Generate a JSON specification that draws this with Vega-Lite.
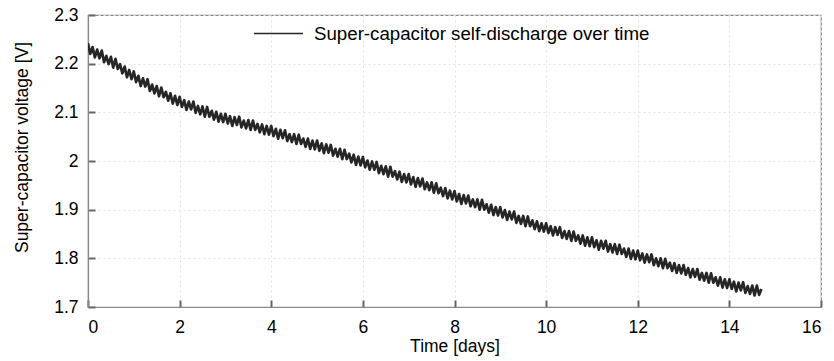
{
"$schema": "https://vega.github.io/schema/vega-lite/v6.json",
"width": 733, "height": 292,
"autosize": {"type": "none"},
"padding": {"left": 88, "top": 15, "right": 13, "bottom": 54},
"data": {"values": [
{"t":0,"v":2.242},{"t":0.05,"v":2.220},{"t":0.1,"v":2.234},{"t":0.15,"v":2.213},{"t":0.2,"v":2.229},{"t":0.25,"v":2.211},{"t":0.3,"v":2.227},{"t":0.35,"v":2.203},{"t":0.4,"v":2.216},{"t":0.45,"v":2.199},
{"t":0.5,"v":2.214},{"t":0.55,"v":2.192},{"t":0.6,"v":2.210},{"t":0.65,"v":2.189},{"t":0.7,"v":2.199},{"t":0.75,"v":2.180},{"t":0.8,"v":2.194},{"t":0.85,"v":2.172},{"t":0.9,"v":2.187},{"t":0.95,"v":2.168},
{"t":1,"v":2.184},{"t":1.05,"v":2.162},{"t":1.1,"v":2.175},{"t":1.15,"v":2.154},{"t":1.2,"v":2.170},{"t":1.25,"v":2.153},{"t":1.3,"v":2.168},{"t":1.35,"v":2.144},{"t":1.4,"v":2.157},{"t":1.45,"v":2.139},
{"t":1.5,"v":2.154},{"t":1.55,"v":2.133},{"t":1.6,"v":2.151},{"t":1.65,"v":2.131},{"t":1.7,"v":2.142},{"t":1.75,"v":2.124},{"t":1.8,"v":2.139},{"t":1.85,"v":2.118},{"t":1.9,"v":2.134},{"t":1.95,"v":2.115},
{"t":2,"v":2.132},{"t":2.05,"v":2.111},{"t":2.1,"v":2.125},{"t":2.15,"v":2.105},{"t":2.2,"v":2.122},{"t":2.25,"v":2.106},{"t":2.3,"v":2.122},{"t":2.35,"v":2.099},{"t":2.4,"v":2.113},{"t":2.45,"v":2.096},
{"t":2.5,"v":2.112},{"t":2.55,"v":2.091},{"t":2.6,"v":2.111},{"t":2.65,"v":2.091},{"t":2.7,"v":2.103},{"t":2.75,"v":2.085},{"t":2.8,"v":2.101},{"t":2.85,"v":2.081},{"t":2.9,"v":2.097},{"t":2.95,"v":2.080},
{"t":3,"v":2.097},{"t":3.05,"v":2.077},{"t":3.1,"v":2.092},{"t":3.15,"v":2.072},{"t":3.2,"v":2.090},{"t":3.25,"v":2.074},{"t":3.3,"v":2.091},{"t":3.35,"v":2.069},{"t":3.4,"v":2.083},{"t":3.45,"v":2.067},
{"t":3.5,"v":2.084},{"t":3.55,"v":2.064},{"t":3.6,"v":2.083},{"t":3.65,"v":2.064},{"t":3.7,"v":2.076},{"t":3.75,"v":2.059},{"t":3.8,"v":2.075},{"t":3.85,"v":2.055},{"t":3.9,"v":2.072},{"t":3.95,"v":2.054},
{"t":4,"v":2.072},{"t":4.05,"v":2.051},{"t":4.1,"v":2.066},{"t":4.15,"v":2.046},{"t":4.2,"v":2.064},{"t":4.25,"v":2.047},{"t":4.3,"v":2.063},{"t":4.35,"v":2.041},{"t":4.4,"v":2.055},{"t":4.45,"v":2.039},
{"t":4.5,"v":2.055},{"t":4.55,"v":2.035},{"t":4.6,"v":2.054},{"t":4.65,"v":2.035},{"t":4.7,"v":2.046},{"t":4.75,"v":2.029},{"t":4.8,"v":2.046},{"t":4.85,"v":2.025},{"t":4.9,"v":2.042},{"t":4.95,"v":2.024},
{"t":5,"v":2.042},{"t":5.05,"v":2.021},{"t":5.1,"v":2.036},{"t":5.15,"v":2.016},{"t":5.2,"v":2.034},{"t":5.25,"v":2.017},{"t":5.3,"v":2.033},{"t":5.35,"v":2.011},{"t":5.4,"v":2.025},{"t":5.45,"v":2.009},
{"t":5.5,"v":2.025},{"t":5.55,"v":2.004},{"t":5.6,"v":2.023},{"t":5.65,"v":2.004},{"t":5.7,"v":2.015},{"t":5.75,"v":1.997},{"t":5.8,"v":2.013},{"t":5.85,"v":1.992},{"t":5.9,"v":2.009},{"t":5.95,"v":1.991},
{"t":6,"v":2.008},{"t":6.05,"v":1.987},{"t":6.1,"v":2.001},{"t":6.15,"v":1.982},{"t":6.2,"v":1.999},{"t":6.25,"v":1.982},{"t":6.3,"v":1.998},{"t":6.35,"v":1.975},{"t":6.4,"v":1.990},{"t":6.45,"v":1.973},
{"t":6.5,"v":1.989},{"t":6.55,"v":1.968},{"t":6.6,"v":1.988},{"t":6.65,"v":1.968},{"t":6.7,"v":1.979},{"t":6.75,"v":1.962},{"t":6.8,"v":1.978},{"t":6.85,"v":1.957},{"t":6.9,"v":1.973},{"t":6.95,"v":1.956},
{"t":7,"v":1.973},{"t":7.05,"v":1.952},{"t":7.1,"v":1.967},{"t":7.15,"v":1.947},{"t":7.2,"v":1.965},{"t":7.25,"v":1.948},{"t":7.3,"v":1.964},{"t":7.35,"v":1.942},{"t":7.4,"v":1.956},{"t":7.45,"v":1.940},
{"t":7.5,"v":1.956},{"t":7.55,"v":1.935},{"t":7.6,"v":1.954},{"t":7.65,"v":1.934},{"t":7.7,"v":1.945},{"t":7.75,"v":1.928},{"t":7.8,"v":1.944},{"t":7.85,"v":1.923},{"t":7.9,"v":1.939},{"t":7.95,"v":1.921},
{"t":8,"v":1.938},{"t":8.05,"v":1.917},{"t":8.1,"v":1.932},{"t":8.15,"v":1.912},{"t":8.2,"v":1.930},{"t":8.25,"v":1.913},{"t":8.3,"v":1.929},{"t":8.35,"v":1.907},{"t":8.4,"v":1.921},{"t":8.45,"v":1.905},
{"t":8.5,"v":1.921},{"t":8.55,"v":1.900},{"t":8.6,"v":1.920},{"t":8.65,"v":1.900},{"t":8.7,"v":1.911},{"t":8.75,"v":1.894},{"t":8.8,"v":1.910},{"t":8.85,"v":1.889},{"t":8.9,"v":1.905},{"t":8.95,"v":1.888},
{"t":9,"v":1.905},{"t":9.05,"v":1.884},{"t":9.1,"v":1.899},{"t":9.15,"v":1.879},{"t":9.2,"v":1.896},{"t":9.25,"v":1.880},{"t":9.3,"v":1.896},{"t":9.35,"v":1.873},{"t":9.4,"v":1.887},{"t":9.45,"v":1.871},
{"t":9.5,"v":1.887},{"t":9.55,"v":1.866},{"t":9.6,"v":1.886},{"t":9.65,"v":1.866},{"t":9.7,"v":1.878},{"t":9.75,"v":1.860},{"t":9.8,"v":1.876},{"t":9.85,"v":1.856},{"t":9.9,"v":1.872},{"t":9.95,"v":1.855},
{"t":10,"v":1.872},{"t":10.05,"v":1.852},{"t":10.1,"v":1.866},{"t":10.15,"v":1.847},{"t":10.2,"v":1.864},{"t":10.25,"v":1.848},{"t":10.3,"v":1.864},{"t":10.35,"v":1.842},{"t":10.4,"v":1.856},{"t":10.45,"v":1.840},
{"t":10.5,"v":1.856},{"t":10.55,"v":1.836},{"t":10.6,"v":1.855},{"t":10.65,"v":1.836},{"t":10.7,"v":1.847},{"t":10.75,"v":1.830},{"t":10.8,"v":1.847},{"t":10.85,"v":1.826},{"t":10.9,"v":1.843},{"t":10.95,"v":1.825},
{"t":11,"v":1.843},{"t":11.05,"v":1.823},{"t":11.1,"v":1.837},{"t":11.15,"v":1.818},{"t":11.2,"v":1.836},{"t":11.25,"v":1.820},{"t":11.3,"v":1.836},{"t":11.35,"v":1.814},{"t":11.4,"v":1.829},{"t":11.45,"v":1.812},
{"t":11.5,"v":1.829},{"t":11.55,"v":1.809},{"t":11.6,"v":1.828},{"t":11.65,"v":1.809},{"t":11.7,"v":1.820},{"t":11.75,"v":1.803},{"t":11.8,"v":1.820},{"t":11.85,"v":1.799},{"t":11.9,"v":1.816},{"t":11.95,"v":1.798},
{"t":12,"v":1.816},{"t":12.05,"v":1.796},{"t":12.1,"v":1.810},{"t":12.15,"v":1.791},{"t":12.2,"v":1.808},{"t":12.25,"v":1.792},{"t":12.3,"v":1.808},{"t":12.35,"v":1.786},{"t":12.4,"v":1.800},{"t":12.45,"v":1.784},
{"t":12.5,"v":1.800},{"t":12.55,"v":1.780},{"t":12.6,"v":1.799},{"t":12.65,"v":1.780},{"t":12.7,"v":1.791},{"t":12.75,"v":1.774},{"t":12.8,"v":1.790},{"t":12.85,"v":1.770},{"t":12.9,"v":1.786},{"t":12.95,"v":1.769},
{"t":13,"v":1.786},{"t":13.05,"v":1.766},{"t":13.1,"v":1.780},{"t":13.15,"v":1.761},{"t":13.2,"v":1.778},{"t":13.25,"v":1.762},{"t":13.3,"v":1.778},{"t":13.35,"v":1.756},{"t":13.4,"v":1.770},{"t":13.45,"v":1.754},
{"t":13.5,"v":1.770},{"t":13.55,"v":1.750},{"t":13.6,"v":1.769},{"t":13.65,"v":1.750},{"t":13.7,"v":1.761},{"t":13.75,"v":1.744},{"t":13.8,"v":1.761},{"t":13.85,"v":1.740},{"t":13.9,"v":1.757},{"t":13.95,"v":1.739},
{"t":14,"v":1.757},{"t":14.05,"v":1.737},{"t":14.1,"v":1.752},{"t":14.15,"v":1.732},{"t":14.2,"v":1.750},{"t":14.25,"v":1.734},{"t":14.3,"v":1.751},{"t":14.35,"v":1.729},{"t":14.4,"v":1.743},{"t":14.45,"v":1.727},
{"t":14.5,"v":1.744},{"t":14.55,"v":1.724},{"t":14.6,"v":1.744},{"t":14.65,"v":1.725},{"t":14.7,"v":1.737}
]},
"mark": {"type": "line", "strokeWidth": 2.7, "strokeJoin": "round", "clip": true},
"encoding": {
  "x": {"field": "t", "type": "quantitative", "title": "Time [days]",
    "scale": {"domain": [0, 16], "nice": false},
    "axis": {"values": [0,2,4,6,8,10,12,14,16], "format": "~g", "titlePadding": 2, "labelPadding": 18, "tickSize": -7}},
  "y": {"field": "v", "type": "quantitative", "title": "Super-capacitor voltage [V]",
    "scale": {"domain": [1.7, 2.3], "nice": false, "zero": false},
    "axis": {"values": [1.7,1.8,1.9,2.0,2.1,2.2,2.3], "format": "~g", "titlePadding": 22, "labelPadding": 17, "titleY": 132, "tickSize": -7}},
  "color": {"datum": "Super-capacitor self-discharge over time", "type": "nominal",
    "scale": {"range": ["#262626"]},
    "legend": {"title": null, "orient": "none", "legendX": 165, "legendY": -7,
      "symbolType": "stroke", "symbolSize": 2401, "symbolStrokeWidth": 1.5,
      "labelFontSize": 18.7, "labelColor": "#000", "labelFont": "Liberation Sans", "labelLimit": 500, "labelOffset": 10}}
},
"config": {
  "font": "Liberation Sans",
  "background": "white",
  "view": {"stroke": "#888888", "strokeWidth": 1.2},
  "axis": {
    "domainColor": "#888888", "domainWidth": 1.2,
    "tickColor": "#666666", "tickWidth": 2,
    "labelFont": "Liberation Sans", "labelFontSize": 17.5, "labelColor": "#000",
    "titleFont": "Liberation Sans", "titleFontSize": 17.5, "titleFontWeight": "normal", "titleColor": "#000",
    "grid": true, "gridColor": "#e4e4e4", "gridDash": [2, 3], "gridWidth": 1
  }
}
}
